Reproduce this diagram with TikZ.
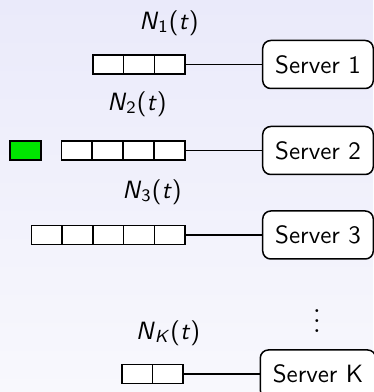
\documentclass[tikz,border=0pt]{standalone}
\usetikzlibrary{positioning}

\definecolor{bgtop}{RGB}{234,234,250}
\definecolor{bgbot}{RGB}{248,248,253}
\definecolor{jobgreen}{RGB}{0,230,0}

\newcommand{\qlen}[1]{\textit{N}\textsubscript{\upshape #1}(\textit{t})}

\tikzset{
    cell/.style={draw, line width=0.6pt, fill=white, minimum width=12.3pt, minimum height=7.6pt, inner sep=0pt, outer sep=0pt},
    server/.style={draw, line width=0.6pt, fill=white, rounded corners=3.2pt, font=\sffamily, minimum height=19.2pt, inner xsep=5pt, outer sep=0pt},
    qlabel/.style={font=\sffamily},
    link/.style={line width=0.5pt},
}

\begin{document}
\begin{tikzpicture}[x=0.4pt,y=0.4pt]
    \shade[top color=bgtop, bottom color=bgbot] (0,0) rectangle (373,392);
    \useasboundingbox (0,0) rectangle (373,392);

    % servers
    \node[server] (s1) at (318,327.5) {Server 1};
    \node[server] (s2) at (318,241.5) {Server 2};
    \node[server] (s3) at (318,157) {Server 3};
    \node[server] (sk) at (318,18) {Server K};
    \node[font=\large] (dots) at (317,78) {$\vdots$};

    % queues
    \foreach \k in {1,2,3}
        \node[cell] (a\k) at ({185-(3.5-\k)*30.7},327.5) {};
    \foreach \k in {1,...,4}
        \node[cell] (b\k) at ({185-(4.5-\k)*30.9},241.5) {};
    \foreach \k in {1,...,5}
        \node[cell] (c\k) at ({185-(5.5-\k)*30.7},157) {};
    \foreach \k in {1,2}
        \node[cell] (d\k) at ({183-(2.5-\k)*30.5},18) {};
    \node[cell, fill=jobgreen] (job) at (25.5,241.5) {};

    % labels
    \node[qlabel] (n1) at (169,369) {\qlen{1}};
    \node[qlabel] (n2) at (137,288) {\qlen{2}};
    \node[qlabel] (n3) at (152,200) {\qlen{3}};
    \node[qlabel] (nk) at (168,59) {\qlen{\textit{K}}};

    \draw[link] (a3.east) -- (s1.west);
    \draw[link] (b4.east) -- (s2.west);
    \draw[link] (c5.east) -- (s3.west);
    \draw[link] (d2.east) -- (sk.west);
\end{tikzpicture}
\end{document}
